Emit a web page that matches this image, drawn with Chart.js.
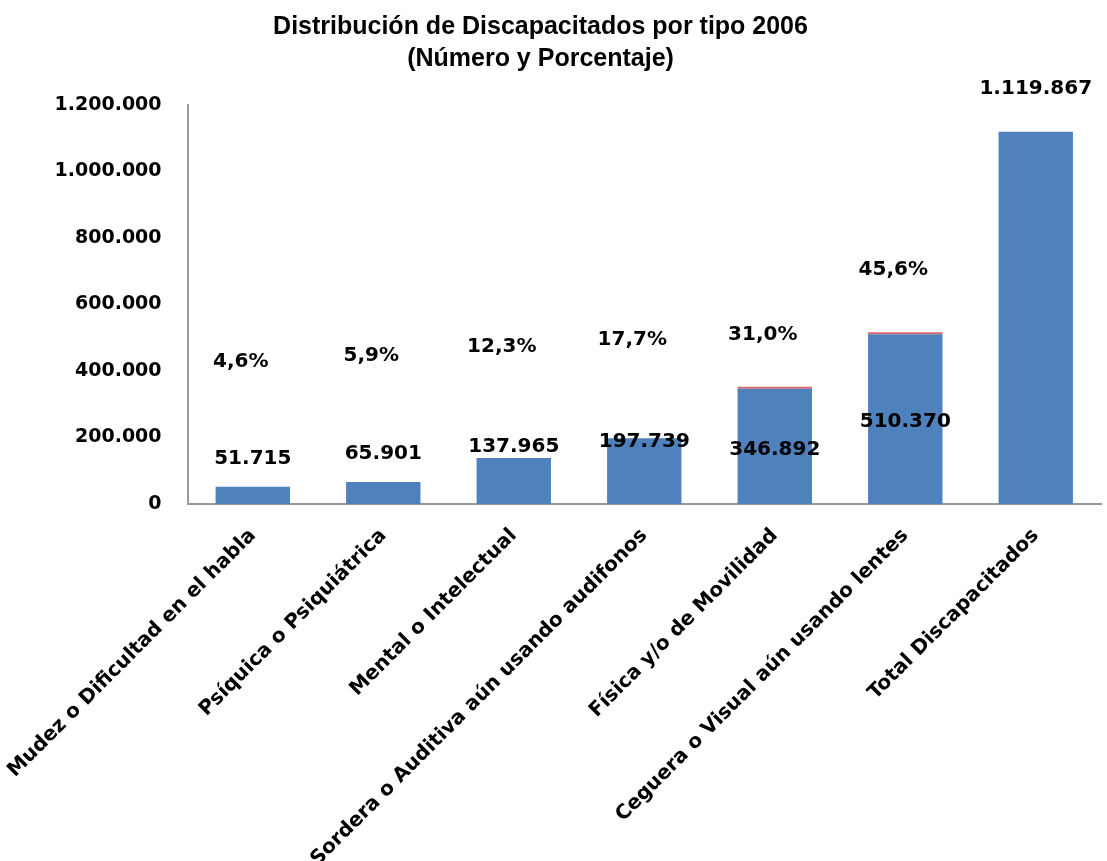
<!DOCTYPE html>
<html>
<head>
<meta charset="utf-8">
<script src="https://cdn.jsdelivr.net/npm/chart.js@4/dist/chart.umd.min.js"></script>
<style>
  html, body { margin: 0; background: #fff; overflow: hidden; }
  #wrap { width: 1127px; height: 891px; margin-left: -20px; }
</style>
</head>
<body>
<div id="wrap"><canvas id="discap"></canvas></div>
<script>
var categories = [
    "Mudez o Dificultad en el habla",
    "Psíquica o Psiquiátrica",
    "Mental o Intelectual",
    "Sordera o Auditiva aún usando audifonos",
    "Física y/o de Movilidad",
    "Ceguera o Visual aún usando lentes",
    "Total Discapacitados"
];
var counts = [51715, 65901, 137965, 197739, 346892, 510370, 1119867];
var shares = [4.6, 5.9, 12.3, 17.7, 31.0, 45.6, null];

var yMax = 1200000;
var yStep = 200000;

function fmtNum(v) {
    return String(Math.round(v)).replace(/\B(?=(\d{3})+(?!\d))/g, ".");
}
function fmtPct(v) {
    return v.toFixed(1).replace(".", ",") + "%";
}

// labels were hand placed in the original, anchors given in axis units
var labelPlugin = {
    id: 'manualLabels',
    afterDatasetsDraw: function (chart, args, opts) {
        var ctx = chart.ctx;
        var y = chart.scales.y;
        var meta = chart.getDatasetMeta(0);
        ctx.save();
        ctx.font = "bold 20px 'DejaVu Sans'";
        ctx.fillStyle = "#000";
        ctx.textAlign = "center";
        ctx.textBaseline = "middle";
        meta.data.forEach(function (bar, i) {
            ctx.fillText(fmtNum(counts[i]), bar.x, y.getPixelForValue(opts.valueAt[i]));
            if (shares[i] != null) {
                ctx.fillText(fmtPct(shares[i]), bar.x - 12, y.getPixelForValue(opts.pctAt[i]));
            }
        });
        ctx.restore();
    }
};

window.onload = function () {
    var ctx = document.getElementById("discap").getContext("2d");
    window.discapChart = new Chart(ctx, {
        type: 'bar',
        data: {
            labels: categories,
            datasets: [
                {
                    label: "Número",
                    data: counts,
                    backgroundColor: "#4F81BD",
                    stack: "s"
                },
                {
                    label: "Porcentaje",
                    data: shares,
                    minBarLength: 2,
                    backgroundColor: function (c) {
                        return (c.dataIndex === 4 || c.dataIndex === 5) ? "#D9666B" : "rgba(0,0,0,0)";
                    },
                    stack: "s"
                }
            ]
        },
        options: {
            responsive: true,
            maintainAspectRatio: false,
            animation: false,
            layout: { padding: { top: 0, right: 6, left: 0, bottom: 0 } },
            datasets: {
                bar: { barPercentage: 0.57, categoryPercentage: 1.0 }
            },
            plugins: {
                legend: { display: false },
                tooltip: { enabled: false },
                title: {
                    display: true,
                    text: ["Distribución de Discapacitados por tipo 2006", "(Número y Porcentaje)"],
                    color: "#000",
                    font: { family: "'Liberation Sans', Arial", size: 25, weight: 'bold', lineHeight: 1.28 },
                    padding: { top: 11, bottom: 30 }
                },
                manualLabels: {
                    valueAt: [135000, 150000, 171000, 186000, 162000, 246000, 1248000],
                    pctAt: [429000, 447000, 474000, 495000, 510000, 705000]
                }
            },
            scales: {
                x: {
                    stacked: true,
                    grid: { display: false, drawTicks: false },
                    border: { color: "#999", width: 2 },
                    ticks: {
                        color: "#000",
                        maxRotation: 45,
                        minRotation: 45,
                        autoSkip: false,
                        padding: 20,
                        font: { family: "'DejaVu Sans'", size: 20, weight: 'bold' }
                    }
                },
                y: {
                    stacked: true,
                    min: 0,
                    max: yMax,
                    grid: { display: false, drawTicks: false },
                    border: { color: "#999", width: 2 },
                    ticks: {
                        stepSize: yStep,
                        color: "#000",
                        padding: 26,
                        font: { family: "'DejaVu Sans'", size: 19, weight: 'bold' },
                        callback: function (v) { return fmtNum(v); }
                    }
                }
            }
        },
        plugins: [labelPlugin]
    });
};
</script>
</body>
</html>
